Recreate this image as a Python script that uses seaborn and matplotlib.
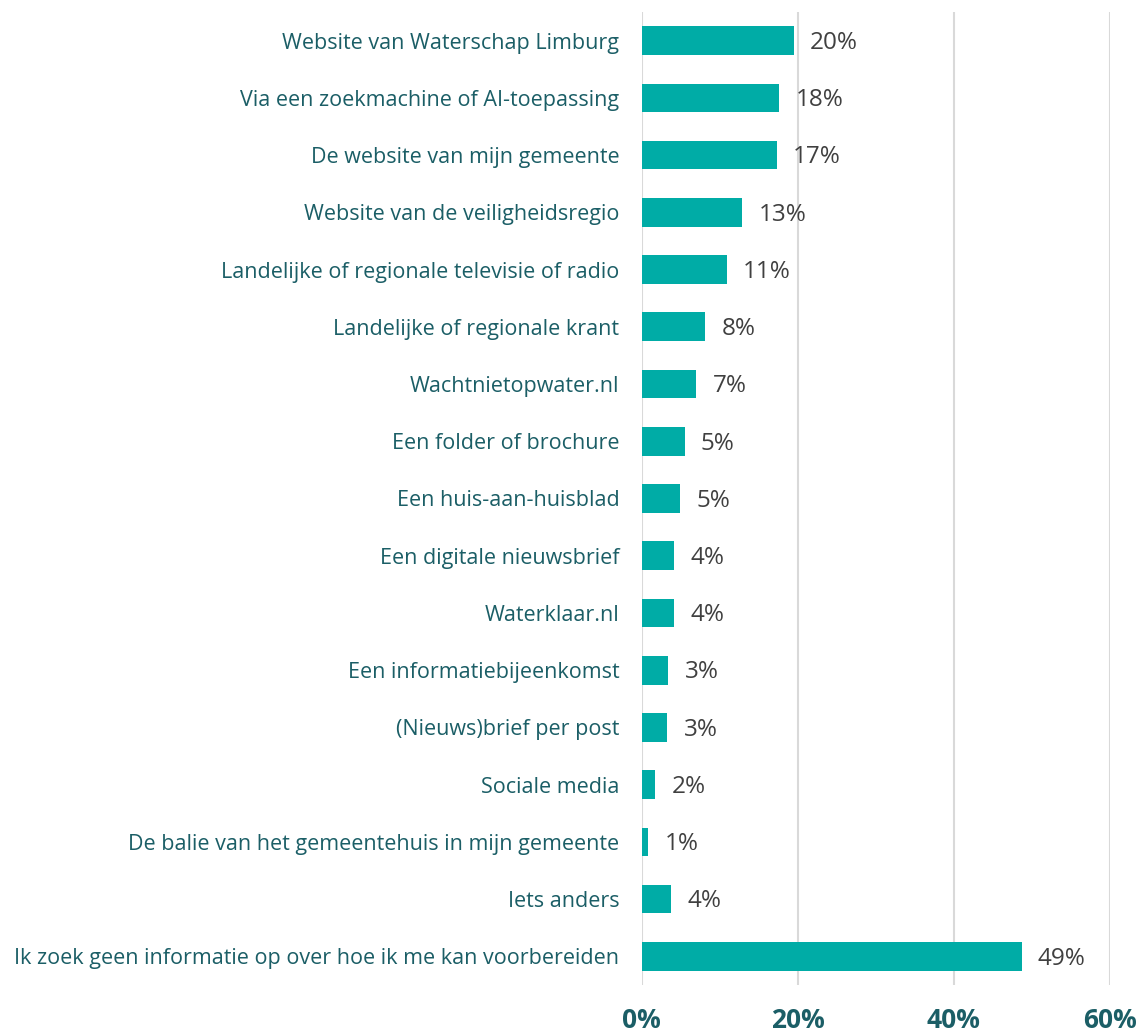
import matplotlib
matplotlib.use('Agg')
import matplotlib.pyplot as plt
import seaborn as sns
import pandas as pd
from matplotlib.ticker import PercentFormatter

categories = [
    'Website van Waterschap Limburg',
    'Via een zoekmachine of AI-toepassing',
    'De website van mijn gemeente',
    'Website van de veiligheidsregio',
    'Landelijke of regionale televisie of radio',
    'Landelijke of regionale krant',
    'Wachtnietopwater.nl',
    'Een folder of brochure',
    'Een huis-aan-huisblad',
    'Een digitale nieuwsbrief',
    'Waterklaar.nl',
    'Een informatiebijeenkomst',
    '(Nieuws)brief per post',
    'Sociale media',
    'De balie van het gemeentehuis in mijn gemeente',
    'Iets anders',
    'Ik zoek geen informatie op over hoe ik me kan voorbereiden',
]
values = [19.5, 17.6, 17.3, 12.9, 10.9, 8.1, 7.0, 5.5, 4.9, 4.1, 4.1, 3.4, 3.3, 1.7, 0.85, 3.8, 48.7]
value_labels = ['20%', '18%', '17%', '13%', '11%', '8%', '7%', '5%', '5%', '4%', '4%',
                '3%', '3%', '2%', '1%', '4%', '49%']
x_ticks = [0, 20, 40, 60]

BAR = '#00ACA6'
LABEL = '#1B5E66'
VALUE = '#404040'
GRID = '#D9D9D9'

df = pd.DataFrame({'cat': categories, 'val': values})

sns.set_theme(style='white')
plt.rcParams['font.family'] = ['Open Sans', 'DejaVu Sans']

fig = plt.figure(figsize=(11.39, 10.32), dpi=100)
ax = fig.add_axes([641.7 / 1139, 1 - 985 / 1032, 468 / 1139, 973 / 1032])

sns.barplot(data=df, x='val', y='cat', color=BAR, width=0.5, ax=ax,
            saturation=1, edgecolor='none', orient='h')

ax.set_xlim(0, 60)
ax.set_ylim(16.5, -0.5)
ax.set_xticks(x_ticks)
ax.xaxis.set_major_formatter(PercentFormatter(decimals=0))
ax.grid(axis='x', color=GRID, linewidth=1.5)
ax.set_axisbelow(True)
for s in ax.spines.values():
    s.set_visible(False)

ax.set_xlabel('')
ax.set_ylabel('')
ax.tick_params(axis='y', length=0, pad=16, labelsize=15.5, labelcolor=LABEL)
ax.tick_params(axis='x', length=0, pad=16, labelsize=19, labelcolor=LABEL)
for t in ax.get_xticklabels():
    t.set_fontweight('bold')

for i, (v, lab) in enumerate(zip(values, value_labels)):
    ax.text(v + 2.1, i + 0.04, lab, va='center', ha='left', fontsize=17.5, color=VALUE, clip_on=False)

fig.savefig('out.png', dpi=100)
